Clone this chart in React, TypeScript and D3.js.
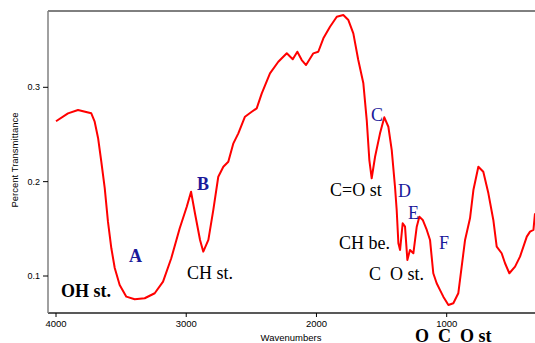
import React from "react";
import * as d3 from "d3";

const wavenumbers = [
  4000, 3908, 3831, 3729, 3703, 3677, 3652, 3626, 3601, 3575, 3549, 3511, 3460, 3396, 3319, 3242, 3178, 3115, 3050,
  2996, 2963, 2933, 2894, 2869, 2830, 2792, 2754, 2715, 2677, 2638, 2600, 2549, 2497, 2459, 2420, 2357, 2293, 2228,
  2182, 2147, 2113, 2080, 2024, 1986, 1947, 1896, 1844, 1794, 1755, 1717, 1679, 1640, 1614, 1594, 1576, 1550, 1512,
  1479, 1448, 1422, 1397, 1384, 1371, 1358, 1338, 1320, 1302, 1282, 1256, 1230, 1210, 1184, 1153, 1128, 1103, 1077,
  1051, 1026, 987, 949, 911, 885, 859, 821, 795, 757, 719, 680, 642, 616, 578, 552, 519, 475, 437, 385, 360, 334, 322,
];
const transmittance = [
  0.264, 0.2724, 0.276, 0.2724, 0.2635, 0.2463, 0.2211, 0.1933, 0.1576, 0.1294, 0.1085, 0.0905, 0.0781, 0.0753,
  0.0764, 0.0817, 0.094, 0.1188, 0.1506, 0.1734, 0.1893, 0.1665, 0.1382, 0.1258, 0.1382, 0.17, 0.2052, 0.2158,
  0.2211, 0.2406, 0.2512, 0.2688, 0.2741, 0.2777, 0.2936, 0.3148, 0.3271, 0.336, 0.3297, 0.3377, 0.3289, 0.3236,
  0.336, 0.3377, 0.3519, 0.3642, 0.3748, 0.3766, 0.3713, 0.3572, 0.3289, 0.3042, 0.2653, 0.2229, 0.2036, 0.2264,
  0.2512, 0.2682, 0.2582, 0.2335, 0.1946, 0.17, 0.1347, 0.1276, 0.1559, 0.1523, 0.117, 0.1276, 0.1241, 0.1523,
  0.1629, 0.1594, 0.1488, 0.1382, 0.1029, 0.0923, 0.085, 0.0781, 0.0693, 0.0711, 0.0817, 0.1099, 0.1382, 0.1612,
  0.1911, 0.2158, 0.2105, 0.1876, 0.1594, 0.1311, 0.1241, 0.1135, 0.1029, 0.1099, 0.1205, 0.1417, 0.147, 0.1488,
  0.1665,
];
const xTicks = [4000, 3000, 2000, 1000];
const yTicks = [0.1, 0.2, 0.3];

const labelTexts = ["OH st.", "A", "B", "CH st.", "C", "C=O st", "D", "E", "CH be.", "F", "C  O st.", "O  C  O st"];
const labelWavenumbers = [3962, 3439, 2917, 2994, 1581, 1896, 1374, 1297, 1827, 1059, 1596, 1243];
const labelValues = [0.0777, 0.1148, 0.1912, 0.0968, 0.2643, 0.1848, 0.1837, 0.1604, 0.1286, 0.1286, 0.0958, 0.0305];
const labelBold = [true, true, true, false, false, false, false, false, false, false, false, true];
const labelBlue = [false, true, true, false, true, false, true, true, false, true, false, false];

export default function App() {
  const W = 535;
  const H = 343;
  const left = 48;
  const top = 11;
  const bottom = 313;
  const x = d3.scaleLinear().domain([4000, 1000]).range([56, 446.7]);
  const y = d3.scaleLinear().domain([0.1, 0.3]).range([276, 87.3]);
  const data = wavenumbers.map((w, i) => [w, transmittance[i]] as [number, number]);
  const line = d3
    .line<[number, number]>()
    .x((d) => x(d[0]))
    .y((d) => y(d[1]))
    .curve(d3.curveLinear);

  return (
    <svg width={W} height={H} style={{ position: "absolute", left: 0, top: 0, background: "#fff" }}>
      <rect x={0} y={0} width={W} height={H} fill="#fff" />
      <line x1={left} x2={W} y1={top} y2={top} stroke="#000" strokeWidth={1} />
      <line x1={left} x2={W} y1={bottom} y2={bottom} stroke="#222" strokeWidth={1.5} />
      <line x1={left} x2={left} y1={top} y2={bottom} stroke="#808080" strokeWidth={1.5} />
      {yTicks.map((t) => (
        <g key={t}>
          <line x1={left - 5} x2={left} y1={y(t)} y2={y(t)} stroke="#000" strokeWidth={1} />
          <text x={left - 8} y={y(t) + 3} fontSize={9} fontFamily="Liberation Sans, Arial, sans-serif" textAnchor="end">
            {t.toFixed(1)}
          </text>
        </g>
      ))}
      {xTicks.map((t) => (
        <g key={t}>
          <line x1={x(t)} x2={x(t)} y1={bottom} y2={bottom + 4} stroke="#000" strokeWidth={1} />
          <text x={x(t)} y={bottom + 14} fontSize={9.5} fontFamily="Liberation Sans, Arial, sans-serif" textAnchor="middle">
            {t}
          </text>
        </g>
      ))}
      <text x={291} y={341} fontSize={9.5} fontFamily="Liberation Sans, Arial, sans-serif" textAnchor="middle">
        Wavenumbers
      </text>
      <text
        transform={`translate(18,160) rotate(-90)`}
        fontSize={9.5}
        fontFamily="Liberation Sans, Arial, sans-serif"
        textAnchor="middle"
      >
        Percent Transmittance
      </text>
      <path d={line(data) ?? ""} fill="none" stroke="#ff0000" strokeWidth={2} strokeLinejoin="round" />
      {labelTexts.map((t, i) => (
        <text
          key={i}
          x={x(labelWavenumbers[i])}
          y={y(labelValues[i])}
          fontSize={18}
          fontWeight={labelBold[i] ? "bold" : "normal"}
          fill={labelBlue[i] ? "#1a1a9a" : "#000"}
          fontFamily="Liberation Serif, Times New Roman, serif"
          style={{ whiteSpace: "pre" }}
        >
          {t}
        </text>
      ))}
    </svg>
  );
}
